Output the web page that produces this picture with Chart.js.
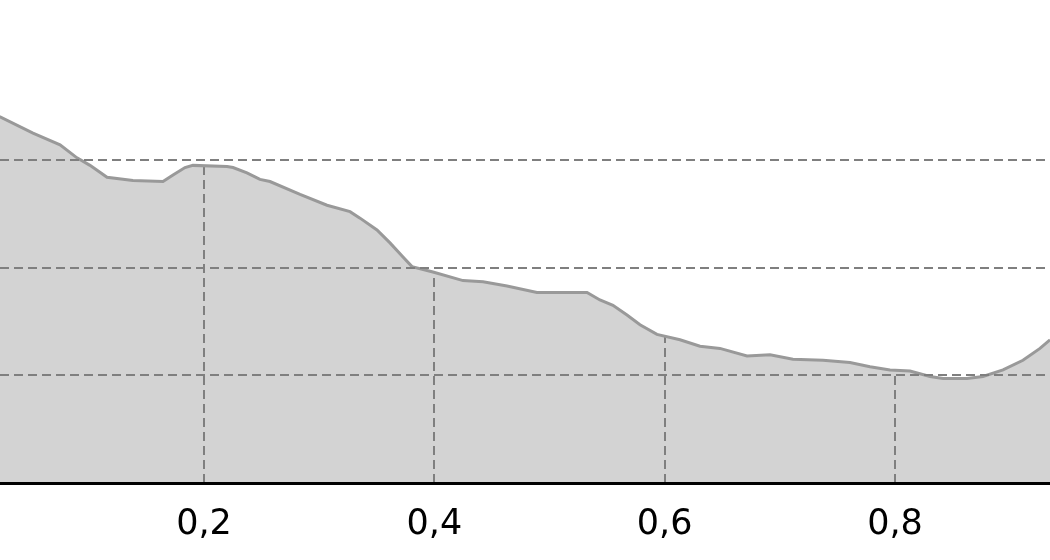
<!DOCTYPE html>
<html>
<head>
<meta charset="utf-8">
<script src="https://cdn.jsdelivr.net/npm/chart.js@4"></script>
<style>
  html, body { margin: 0; padding: 0; background: #fff; }
  #wrap { width: 1050px; height: 560px; }
</style>
</head>
<body>
<div id="wrap"><canvas id="grafik"></canvas></div>
<script>
const xValues = [0.000, 0.0229, 0.0515, 0.0750, 0.0897, 0.1010, 0.1158, 0.1383, 0.1644, 0.1731, 0.1835,
  0.1904, 0.2200, 0.2252, 0.2373, 0.2486, 0.2573, 0.2834, 0.3068, 0.3268, 0.3355, 0.3502, 0.3615,
  0.3728, 0.3806, 0.3988, 0.4249, 0.4423, 0.4631, 0.4891, 0.5326, 0.5438, 0.5551, 0.5673, 0.5786,
  0.5933, 0.6133, 0.6307, 0.6480, 0.6715, 0.6915, 0.7114, 0.7375, 0.7609, 0.7783, 0.7957, 0.8130,
  0.8304, 0.8417, 0.8625, 0.8764, 0.8938, 0.9111, 0.9259, 0.9346, 0.9500];
const yValues = [3.53, 3.40, 3.25, 3.14, 3.02, 2.95, 2.84, 2.81, 2.80, 2.86, 2.93,
  2.95, 2.94, 2.93, 2.88, 2.82, 2.80, 2.68, 2.58, 2.52, 2.46, 2.35, 2.23,
  2.10, 2.01, 1.96, 1.88, 1.87, 1.83, 1.77, 1.77, 1.70, 1.65, 1.56, 1.47,
  1.38, 1.33, 1.27, 1.25, 1.18, 1.19, 1.15, 1.14, 1.12, 1.08, 1.05, 1.04,
  0.99, 0.97, 0.97, 0.99, 1.05, 1.14, 1.25, 1.33, 1.50];
const xTicks = [0.2, 0.4, 0.6, 0.8];
const xTickLabels = ['0,2', '0,4', '0,6', '0,8'];
const yTicks = [1, 2, 3];

const points = xValues.map((x, i) => ({ x: x, y: yValues[i] }));

const gridColor = '#7f7f7f';

// vertical grid lines, only inside the filled area
const vGrid = {
    id: 'vGrid',
    beforeDatasetDraw(chart) {
        const ctx = chart.ctx;
        const meta = chart.getDatasetMeta(0);
        const xs = chart.scales.x;
        const area = chart.chartArea;
        const pts = meta.data;
        ctx.save();
        ctx.beginPath();
        ctx.moveTo(pts[0].x, area.bottom);
        pts.forEach(p => ctx.lineTo(p.x, p.y));
        ctx.lineTo(pts[pts.length - 1].x, area.bottom);
        ctx.closePath();
        ctx.clip();
        ctx.strokeStyle = gridColor;
        ctx.lineWidth = 2;
        ctx.setLineDash([9, 5]);
        xTicks.forEach(v => {
            const px = Math.round(xs.getPixelForValue(v));
            ctx.beginPath();
            ctx.moveTo(px, area.bottom);
            ctx.lineTo(px, area.top);
            ctx.stroke();
        });
        ctx.restore();
    }
};

const config = {
    type: 'line',
    data: {
        datasets: [{
            data: points,
            borderColor: '#999999',
            borderWidth: 3,
            backgroundColor: '#d3d3d3',
            fill: 'origin',
            pointRadius: 0,
            tension: 0
        }]
    },
    options: {
        responsive: true,
        maintainAspectRatio: false,
        animation: false,
        layout: { padding: 0 },
        plugins: {
            legend: { display: false },
            tooltip: { enabled: false }
        },
        scales: {
            x: {
                type: 'linear',
                min: 0.02286,
                max: 0.9346,
                afterBuildTicks: s => { s.ticks = xTicks.map(v => ({ value: v })); },
                afterFit: s => { s.height = 77; },
                grid: { display: false, drawTicks: false },
                border: { display: true, color: '#000', width: 3, z: 2 },
                ticks: {
                    padding: 21,
                    color: '#000',
                    font: { family: 'DejaVu Sans', size: 35 },
                    callback: (v) => xTickLabels[xTicks.indexOf(v)]
                }
            },
            y: {
                min: 0,
                max: 4.486,
                afterBuildTicks: s => { s.ticks = yTicks.map(v => ({ value: v })); },
                afterFit: s => { s.width = 0; },
                border: { display: false, dash: [9, 5] },
                grid: {
                    color: gridColor,
                    lineWidth: 2,
                    drawTicks: false,
                    z: 1
                },
                ticks: { display: false }
            }
        }
    },
    plugins: [vGrid]
};

const myChart = new Chart(document.getElementById('grafik'), config);
</script>
</body>
</html>
